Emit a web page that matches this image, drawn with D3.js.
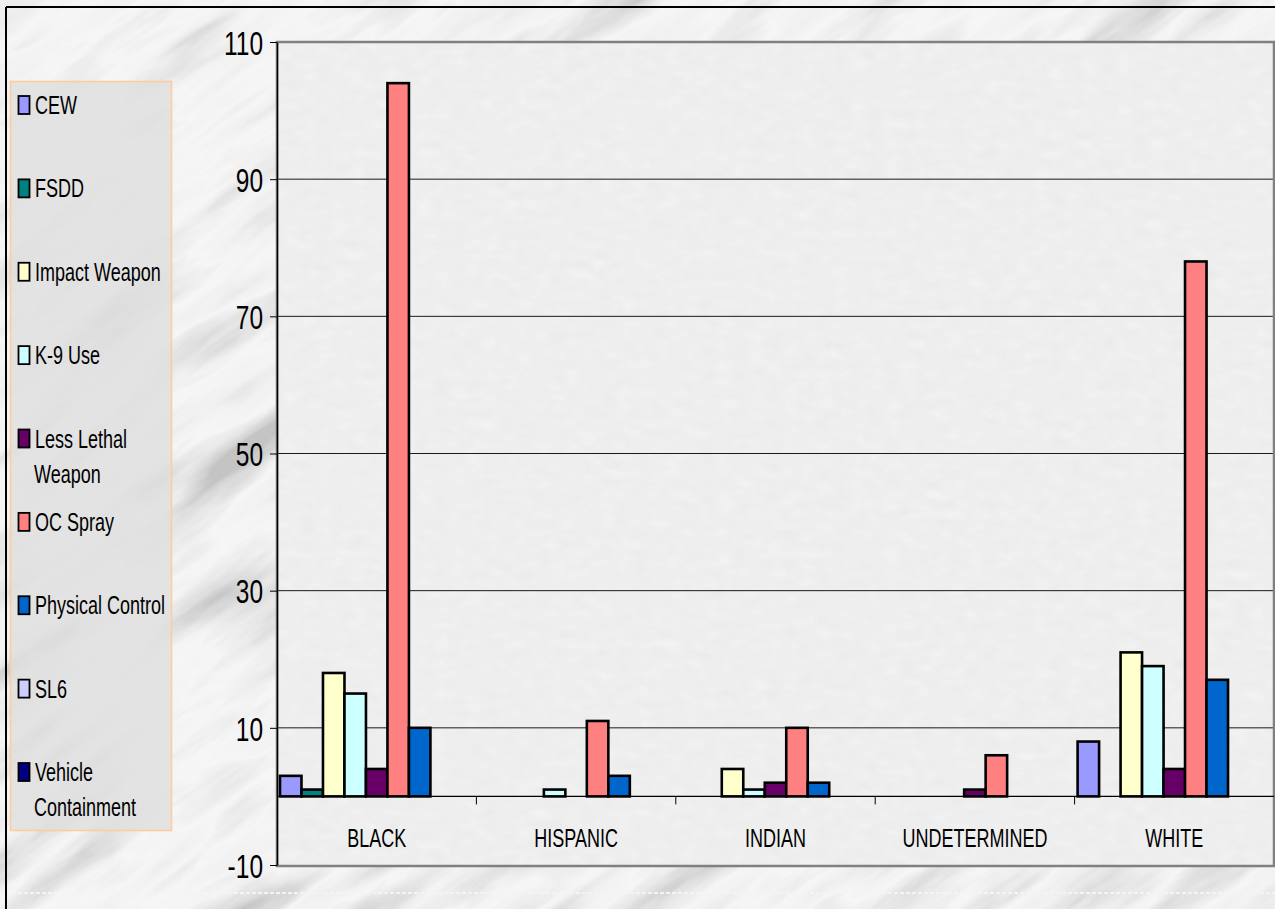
<!DOCTYPE html>
<html>
<head>
<meta charset="utf-8">
<script src="https://cdn.jsdelivr.net/npm/d3@7"></script>
<style>
  html, body { margin: 0; padding: 0; background: #ffffff; }
  svg { display: block; }
  text { font-family: "Liberation Sans", Arial, sans-serif; fill: #000; }
</style>
</head>
<body>
<svg id="chart" width="1275" height="909"></svg>
<script>
// Use-of-force counts by race and force type
const categories = ["BLACK", "HISPANIC", "INDIAN", "UNDETERMINED", "WHITE"];
const seriesNames = ["CEW", "FSDD", "Impact Weapon", "K-9 Use", "Less Lethal Weapon",
                     "OC Spray", "Physical Control", "SL6", "Vehicle Containment"];
const seriesColors = ["#9999FF", "#008080", "#FFFFCC", "#CCFFFF", "#660066",
                      "#FF8080", "#0066CC", "#CCCCFF", "#000080"];
// one array per series, values in category order
const cew               = [3, 0, 0, 0, 8];
const fsdd              = [1, 0, 0, 0, 0];
const impactWeapon      = [18, 0, 4, 0, 21];
const k9Use             = [15, 1, 1, 0, 19];
const lessLethalWeapon  = [4, 0, 2, 1, 4];
const ocSpray           = [104, 11, 10, 6, 78];
const physicalControl   = [10, 3, 2, 0, 17];
const sl6               = [0, 0, 0, 0, 0];
const vehicleContainment = [0, 0, 0, 0, 0];
const yTicks = [-10, 10, 30, 50, 70, 90, 110];
// legend lines (wrapped labels)
const legendLines = [["CEW"], ["FSDD"], ["Impact Weapon"], ["K-9 Use"], ["Less Lethal", "Weapon"],
                     ["OC Spray"], ["Physical Control"], ["SL6"], ["Vehicle", "Containment"]];

const seriesValues = [cew, fsdd, impactWeapon, k9Use, lessLethalWeapon,
                      ocSpray, physicalControl, sl6, vehicleContainment];

const svg = d3.select("#chart");
const W = 1275, H = 909;
const SQUEEZE = 0.72;   // condensed look for every label

// squeeze a text element horizontally to a fraction of its natural width
function condense(sel) {
  sel.each(function () {
    const len = this.getComputedTextLength();
    d3.select(this).attr("textLength", len * SQUEEZE).attr("lengthAdjust", "spacingAndGlyphs");
  });
}

// ---- textured backgrounds ----
const defs = svg.append("defs");
function grayTable(f, vals) {
  ["feFuncR", "feFuncG", "feFuncB"].forEach(n => f.append(n).attr("type", "table").attr("tableValues", vals));
}
function stretch(f, slope, icpt) {
  ["feFuncR", "feFuncG", "feFuncB"].forEach(n =>
    f.append(n).attr("type", "linear").attr("slope", slope).attr("intercept", icpt));
}
const marble = defs.append("filter").attr("id", "marble")
  .attr("filterUnits", "userSpaceOnUse").attr("x", -1000).attr("y", -900).attr("width", 2000).attr("height", 1800);
marble.append("feTurbulence").attr("type", "fractalNoise")
  .attr("baseFrequency", "0.004 0.02").attr("numOctaves", 5).attr("seed", 11);
marble.append("feColorMatrix").attr("type", "matrix")
  .attr("values", "0.33 0.33 0.33 0 0  0.33 0.33 0.33 0 0  0.33 0.33 0.33 0 0  0 0 0 0 1");
marble.append("feComponentTransfer").call(f => stretch(f, 2.2, -0.6));
marble.append("feComponentTransfer").call(f => grayTable(f, "0.55 0.7 0.82 0.92 0.88 0.78 0.62"));

const fine = defs.append("filter").attr("id", "fine")
  .attr("x", 0).attr("y", 0).attr("width", "100%").attr("height", "100%");
fine.append("feTurbulence").attr("type", "fractalNoise")
  .attr("baseFrequency", "0.06 0.1").attr("numOctaves", 3).attr("seed", 3);
fine.append("feColorMatrix").attr("type", "matrix")
  .attr("values", "0.33 0.33 0.33 0 0  0.33 0.33 0.33 0 0  0.33 0.33 0.33 0 0  0 0 0 0 1");
fine.append("feComponentTransfer").call(f => grayTable(f, "0.8 0.86 0.93"));

svg.append("rect").attr("width", W).attr("height", H).attr("fill", "#d4d4d4");
svg.append("g").attr("transform", "translate(640,450) rotate(-35)")
  .append("rect").attr("x", -1000).attr("y", -900).attr("width", 2000).attr("height", 1800)
  .attr("filter", "url(#marble)");

// faint dotted band near the bottom
svg.append("line").attr("x1", 6).attr("x2", W).attr("y1", 893).attr("y2", 893)
  .attr("stroke", "#f4f4f4").attr("stroke-width", 2).attr("stroke-dasharray", "4 2");

// outer frame (top and left)
svg.append("line").attr("x1", 6).attr("x2", W).attr("y1", 7).attr("y2", 7)
  .attr("stroke", "#000").attr("stroke-width", 2);
svg.append("line").attr("x1", 6).attr("x2", 6).attr("y1", 7).attr("y2", H)
  .attr("stroke", "#000").attr("stroke-width", 2);

// ---- plot area ----
const plot = { left: 277, right: 1274, top: 42, bottom: 866 };

const y = d3.scaleLinear().domain([-10, 110]).range([865, 42]);
const x0 = d3.scaleBand().domain(categories).range([plot.left, plot.right]).padding(0);
const x1 = d3.scaleBand().domain(seriesNames).range([3, x0.bandwidth() - 3]).padding(0);

svg.append("rect")
  .attr("x", plot.left).attr("y", plot.top)
  .attr("width", plot.right - plot.left).attr("height", plot.bottom - plot.top)
  .attr("filter", "url(#fine)");

// gridlines
svg.append("g").selectAll("line").data(yTicks.filter(t => t > -10 && t < 110)).join("line")
  .attr("x1", plot.left).attr("x2", plot.right)
  .attr("y1", d => y(d)).attr("y2", d => y(d))
  .attr("stroke", "#1a1a1a").attr("stroke-width", 1);

// plot-area border (grey)
svg.append("rect")
  .attr("x", plot.left).attr("y", plot.top)
  .attr("width", plot.right - plot.left).attr("height", plot.bottom - plot.top)
  .attr("fill", "none").attr("stroke", "#808080").attr("stroke-width", 2.5);

// bars
const barData = [];
categories.forEach((c, ci) => {
  seriesNames.forEach((s, si) => {
    const v = seriesValues[si][ci];
    if (v > 0) barData.push({ c, s, v, color: seriesColors[si] });
  });
});
svg.append("g").selectAll("rect").data(barData).join("rect")
  .attr("x", d => x0(d.c) + x1(d.s))
  .attr("y", d => y(d.v))
  .attr("width", x1.bandwidth())
  .attr("height", d => y(0) - y(d.v))
  .attr("fill", d => d.color)
  .attr("stroke", "#000").attr("stroke-width", 2.6);

// zero line with category ticks
svg.append("line").attr("x1", plot.left).attr("x2", plot.right)
  .attr("y1", y(0)).attr("y2", y(0)).attr("stroke", "#000").attr("stroke-width", 1.2);
svg.append("g").selectAll("line").data(categories.slice(1)).join("line")
  .attr("x1", d => x0(d)).attr("x2", d => x0(d))
  .attr("y1", y(0)).attr("y2", y(0) + 8)
  .attr("stroke", "#000").attr("stroke-width", 1);

// category labels
svg.append("g").selectAll("text").data(categories).join("text")
  .attr("x", d => x0(d) + x0.bandwidth() / 2)
  .attr("y", 847)
  .attr("text-anchor", "middle")
  .attr("font-size", 25)
  .text(d => d)
  .call(condense);

// value axis
const yAxis = d3.axisLeft(y).tickValues(yTicks).tickFormat(d => String(d))
  .tickSize(7).tickSizeOuter(0).tickPadding(7);
const ya = svg.append("g").attr("transform", `translate(${plot.left},0)`).call(yAxis);
ya.select(".domain").attr("stroke", "#000").attr("stroke-width", 1.5);
ya.selectAll(".tick line").attr("stroke", "#000");
ya.selectAll(".tick text")
  .attr("font-size", 34)
  .attr("font-family", "'Liberation Sans', Arial, sans-serif")
  .attr("dy", "0.36em")
  .attr("fill", "#000")
  .call(condense);

// ---- legend ----
const lg = svg.append("g");
lg.append("rect").attr("x", 10.5).attr("y", 81.5).attr("width", 161).attr("height", 749)
  .attr("fill", "#dedede").attr("fill-opacity", 0.8)
  .attr("stroke", "#FFCC99").attr("stroke-width", 1.5);
const legendY = d3.scalePoint().domain(seriesNames).range([105, 772]);
const items = lg.selectAll("g.item").data(seriesNames).join("g").attr("class", "item")
  .attr("transform", d => `translate(0,${legendY(d)})`);
items.append("rect").attr("x", 18.5).attr("y", -9).attr("width", 11).attr("height", 18)
  .attr("fill", (d, i) => seriesColors[i]).attr("stroke", "#000").attr("stroke-width", 1.8);
items.each(function (d, i) {
  const g = d3.select(this);
  legendLines[i].forEach((line, li) => {
    g.append("text")
      .attr("x", li === 0 ? 35 : 34).attr("y", 9 + li * 35)
      .attr("font-size", 25)
      .text(line)
      .call(condense);
  });
});
</script>
</body>
</html>
